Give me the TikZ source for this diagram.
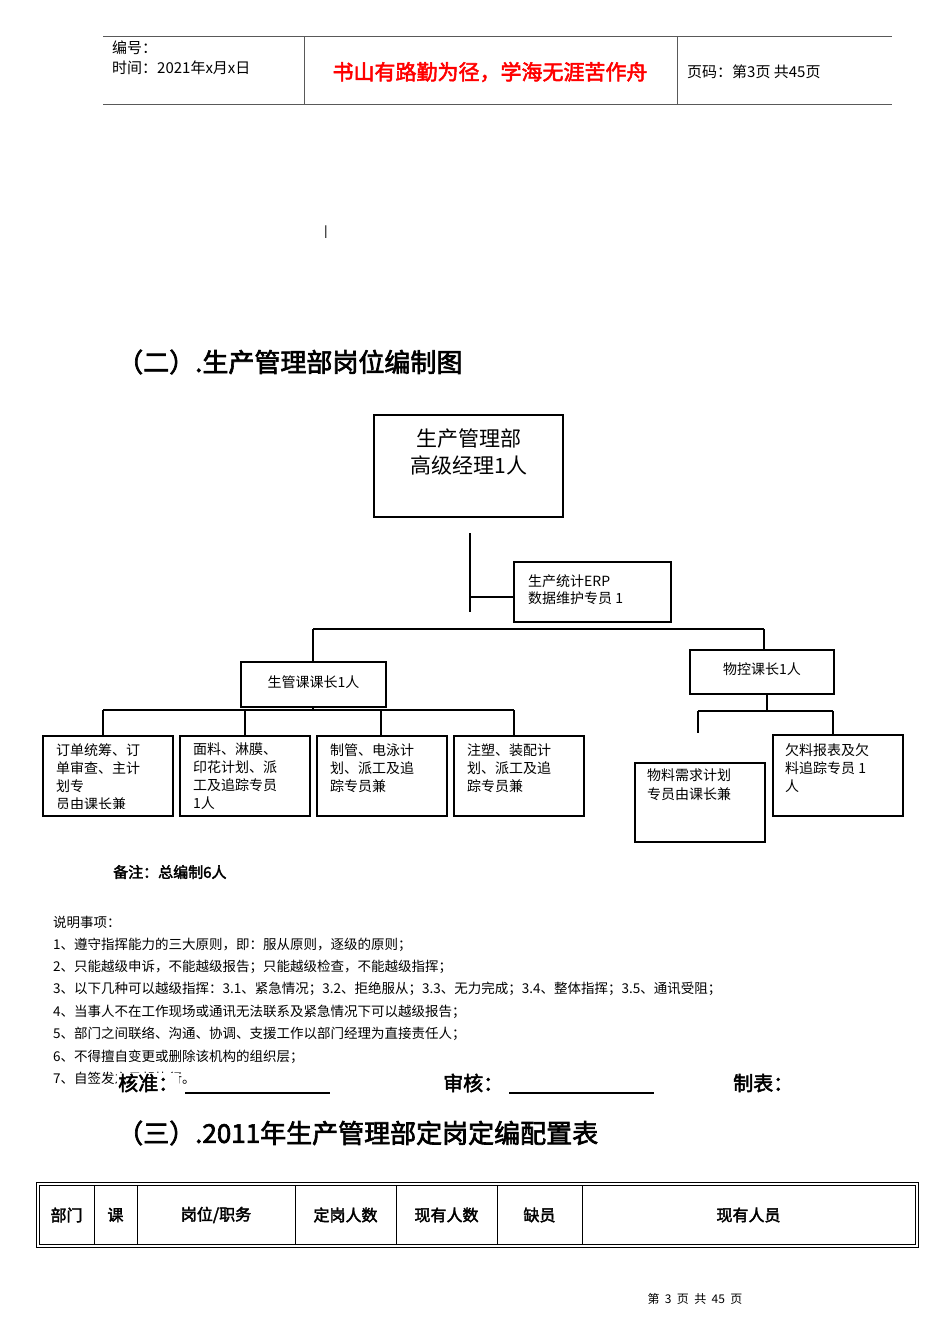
\documentclass[tikz,border=0pt]{standalone}
\usepackage{fontspec}
\setmainfont{Liberation Serif}
\newfontfamily\cjk{Noto Sans CJK SC}
\newfontfamily\cjkb{Noto Sans CJK SC}[FakeBold=2.5]
\tikzset{bx/.style={draw,line width=2pt},ln/.style={line width=2pt},
 t/.style={inner sep=0,anchor=west,font=\cjk\fontsize{14}{17}\selectfont,align=left}}
\begin{document}
\begin{tikzpicture}[x=1pt,y=-1pt]
\useasboundingbox (0,0) rectangle (950,1344);
% header
\draw[line width=0.8pt,gray!70!black] (103,36) -- (892,36) (103,104) -- (892,104) (304,36) -- (304,104) (677,36) -- (677,104);
\node[t,font=\cjk\fontsize{15}{17}\selectfont] (h1) at (112,48) {编号：};
\node[t,font=\cjk\fontsize{15}{17}\selectfont] (h2) at (112,68) {时间：2021年x月x日};
\node[inner sep=0,text=red,font=\cjkb\fontsize{21}{24}\selectfont] (h3) at (490,72) {书山有路勤为径，学海无涯苦作舟};
\node[t,font=\cjk\fontsize{15}{17}\selectfont] (h4) at (687,72) {页码：第3页 共45页};
\node[inner sep=0,font=\fontsize{14}{14}\selectfont] (m) at (326,232) {\textbf{|}};
\node[t,font=\cjkb\fontsize{26}{30}\selectfont] (t2) at (117,362) {（二）.生产管理部岗位编制图};
% org chart
\node[bx,minimum width=189pt,minimum height=102pt] (top) at (468.5,466) {};
\node[align=center,font=\cjk\fontsize{21}{27}\selectfont,inner sep=0] at (469,452) {生产管理部\\高级经理1人};
\node[bx,minimum width=157pt,minimum height=60pt] (erp) at (592.5,592) {};
\node[t] at (528,590) {生产统计ERP\\数据维护专员 1};
\coordinate (a1) at (470,533); \coordinate (a2) at (470,612); \coordinate (a3) at (470,597);
\draw[ln] (a1) -- (a2); \draw[ln] (a3) -- (a3 -| erp.west);
\coordinate (b1) at (313,629); \coordinate (b2) at (764,629);
\draw[ln] (b1) -- (b2);
\node[bx,minimum width=145pt,minimum height=45pt] (sg) at (313.5,684.5) {};
\node[inner sep=0,font=\cjk\fontsize{14}{17}\selectfont] at (313.5,682) {生管课课长1人};
\node[bx,minimum width=144pt,minimum height=44pt] (wk) at (762,672) {};
\node[inner sep=0,font=\cjk\fontsize{14}{17}\selectfont] at (762,669) {物控课长1人};
\draw[ln] (b1) -- (b1 |- sg.north); \draw[ln] (313,707) -- (313,710);
\draw[ln] (b2) -- (b2 |- wk.north);
\draw[ln] (103,710) -- (514,710);
\draw[ln] (767,694) -- (767,711); \draw[ln] (698,711) -- (833,711);
\foreach \x/\n/\tx in {42/c1/{订单统筹、订\\单审查、主计\\划专\\员由课长兼},179/c2/{面料、淋膜、\\印花计划、派\\工及追踪专员\\1人},316/c3/{制管、电泳计\\划、派工及追\\踪专员兼},453/c4/{注塑、装配计\\划、派工及追\\踪专员兼}}{
 \node[bx,minimum width=130pt,minimum height=80pt,anchor=north west] (\n) at (\x,735) {};
 \begin{scope}\clip (\x+2,737) rectangle (\x+128,808);
 \node[t,anchor=north west,font=\cjk\fontsize{14}{18}\selectfont] at (\x+14,743) {\tx};
 \end{scope}}
\draw[ln] (103,710) -- (c1.north -| 103,0); \draw[ln] (245,710) -- (c2.north -| 245,0);
\draw[ln] (381,710) -- (c3.north -| 381,0); \draw[ln] (514,710) -- (c4.north -| 514,0);
\node[bx,minimum width=130pt,minimum height=79pt,anchor=north west] (c5) at (634,762) {};
\node[t,anchor=north west,font=\cjk\fontsize{14}{19}\selectfont] at (647,769) {物料需求计划\\专员由课长兼};
\node[bx,minimum width=130pt,minimum height=81pt,anchor=north west] (c6) at (772,734) {};
\node[t,anchor=north west,font=\cjk\fontsize{14}{18}\selectfont] at (785,743) {欠料报表及欠\\料追踪专员 1\\人};
\draw[ln] (698,711) -- (698,733); \draw[ln] (833,711) -- (c6.north -| 833,0);
\node[t,font=\cjkb\fontsize{15}{17}\selectfont] (bz) at (113,872) {备注：总编制6人};
\foreach \i/\s in {0/{说明事项：},1/{1、遵守指挥能力的三大原则，即：服从原则，逐级的原则；},2/{2、只能越级申诉，不能越级报告；只能越级检查，不能越级指挥；},3/{3、以下几种可以越级指挥：3.1、紧急情况；3.2、拒绝服从；3.3、无力完成；3.4、整体指挥；3.5、通讯受阻；},4/{4、当事人不在工作现场或通讯无法联系及紧急情况下可以越级报告；},5/{5、部门之间联络、沟通、协调、支援工作以部门经理为直接责任人；},6/{6、不得擅自变更或删除该机构的组织层；},7/{7、自签发之日起执行。}}
 \node[t,font=\cjk\fontsize{13.5}{16}\selectfont] at (53,922+22.4*\i) {\s};
\node[t,font=\cjkb\fontsize{20}{22}\selectfont,fill=white,inner sep=1pt] (hz) at (117,1083) {核准：};
\node[t,font=\cjkb\fontsize{20}{22}\selectfont] (sh) at (443,1083) {审核：};
\node[t,font=\cjkb\fontsize{20}{22}\selectfont] (zb) at (733,1083) {制表：};
\draw[line width=1.2pt] (185,1093) -- (330,1093) (509,1093) -- (654,1093);
\node[t,font=\cjkb\fontsize{26}{30}\selectfont] (t3) at (117,1133) {（三）.2011年生产管理部定岗定编配置表};
% table
\draw[line width=1pt] (36,1182) rectangle (918,1247);
\draw[line width=0.7pt] (39,1185) rectangle (915,1244);
\foreach \x in {94,137,295,396,497,582} \draw[line width=1pt] (\x,1185) -- (\x,1244);
\foreach \a/\b/\s in {39/94/{部门},94/137/{课},137/295/{岗位/职务},295/396/{定岗人数},396/497/{现有人数},497/582/{缺员},582/915/{现有人员}}
 \node[inner sep=0,font=\cjkb\fontsize{16}{18}\selectfont] at ({(\a+\b)/2},1215) {\s};
\node[inner sep=0,font=\cjk\fontsize{12}{14}\selectfont] (ft) at (695,1299) {第\ \ 3\ \ 页\ \ 共\ \ 45\ \ 页};
\end{tikzpicture}
\end{document}
